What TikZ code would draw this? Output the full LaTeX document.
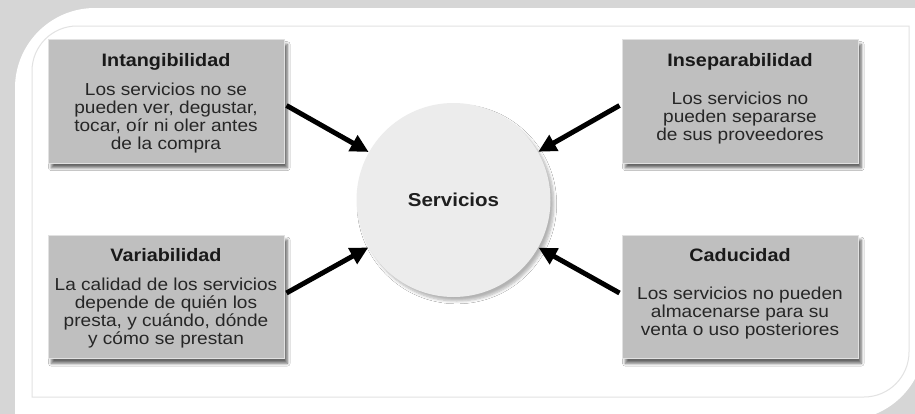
\documentclass[tikz,border=0pt]{standalone}
\usepackage{fontspec}
\setmainfont[FakeStretch=1.1]{Liberation Sans}
\usetikzlibrary{arrows.meta,calc,shadows.blur}

\definecolor{framegray}{RGB}{214,214,214}
\definecolor{boxgray}{RGB}{191,191,191}
\definecolor{boxedge}{RGB}{225,225,225}
\definecolor{circgray}{RGB}{236,236,236}
\definecolor{linegray}{RGB}{226,226,226}
\definecolor{txtgray}{RGB}{38,38,38}

\tikzset{every picture/.style={line width=0.75pt}}
\tikzset{
  featbox/.style={draw=boxedge, fill=boxgray, minimum width=177pt, minimum height=92.5pt, inner sep=0pt,
    blur shadow={shadow xshift=2.5pt, shadow yshift=-3.5pt, shadow opacity=60, shadow blur steps=6}},
  feattitle/.style={font=\fontsize{13.5}{15}\selectfont\bfseries, text=black!90, inner sep=0pt, anchor=base},
  feattext/.style={font=\fontsize{13}{13.5}\selectfont, text=txtgray, align=center, inner sep=0pt},
  hub/.style={circle, fill=circgray, minimum size=145.5pt, inner sep=0pt, text=black!88,
    font=\fontsize{14}{16}\selectfont\bfseries,
    blur shadow={shadow xshift=2.5pt, shadow yshift=-3pt, shadow opacity=30, shadow blur steps=6}},
  fatarrow/.style={line width=3.7pt, -{Triangle[length=13.5pt,width=13pt]}}
}

\begin{document}
\begin{tikzpicture}[x=0.75pt,y=0.75pt,yscale=-1,xscale=1]
\useasboundingbox (0,0) rectangle (915,414);

%Background and white panel
\fill[framegray] (0,0) rectangle (915,414);
\fill[white] (15,414) -- (15,88) arc[start angle=180, end angle=270, radius=80] -- (915,8) -- (915,378.7)
  arc[start angle=28.9, end angle=67.7, radius=80] -- cycle;
%Inner frame
\draw[linegray] (32,397) -- (32,71) arc[start angle=180, end angle=270, radius=45] -- (909,26) -- (909,352)
  arc[start angle=0, end angle=90, radius=45] -- cycle;

%Center circle
\node[hub] (serv) at (453.5,200) {Servicios};

%Shape: Boxes
\node[featbox] (intang) at (166,101.5) {};
\node[featbox] (insep) at (740,101.5) {};
\node[featbox] (variab) at (166,297) {};
\node[featbox] (caduc) at (740,297) {};

% Text Nodes
\node[feattitle] (intangT) at (166,66) {Intangibilidad};
\node[feattext] (intangB) at (166,118) {Los servicios no se\\pueden ver, degustar,\\tocar, oír ni oler antes\\de la compra};
\node[feattitle] (insepT) at (740,66) {Inseparabilidad};
\node[feattext] (insepB) at (740,118) {Los servicios no\\pueden separarse\\de sus proveedores};
\node[feattitle] (variabT) at (166,261) {Variabilidad};
\node[feattext] (variabB) at (166,313) {La calidad de los servicios\\depende de quién los\\presta, y cuándo, dónde\\y cómo se prestan};
\node[feattitle] (caducT) at (740,261) {Caducidad};
\node[feattext] (caducB) at (740,313) {Los servicios no pueden\\almacenarse para su\\venta o uso posteriores};

%Arrows
\draw[fatarrow] ($(intang.east)+(2,4)$) -- (serv);
\draw[fatarrow] ($(insep.west)+(-2,4)$) -- (serv);
\draw[fatarrow] ($(variab.east)+(2,-4)$) -- (serv);
\draw[fatarrow] ($(caduc.west)+(-2,-4)$) -- (serv);

\end{tikzpicture}
\end{document}
